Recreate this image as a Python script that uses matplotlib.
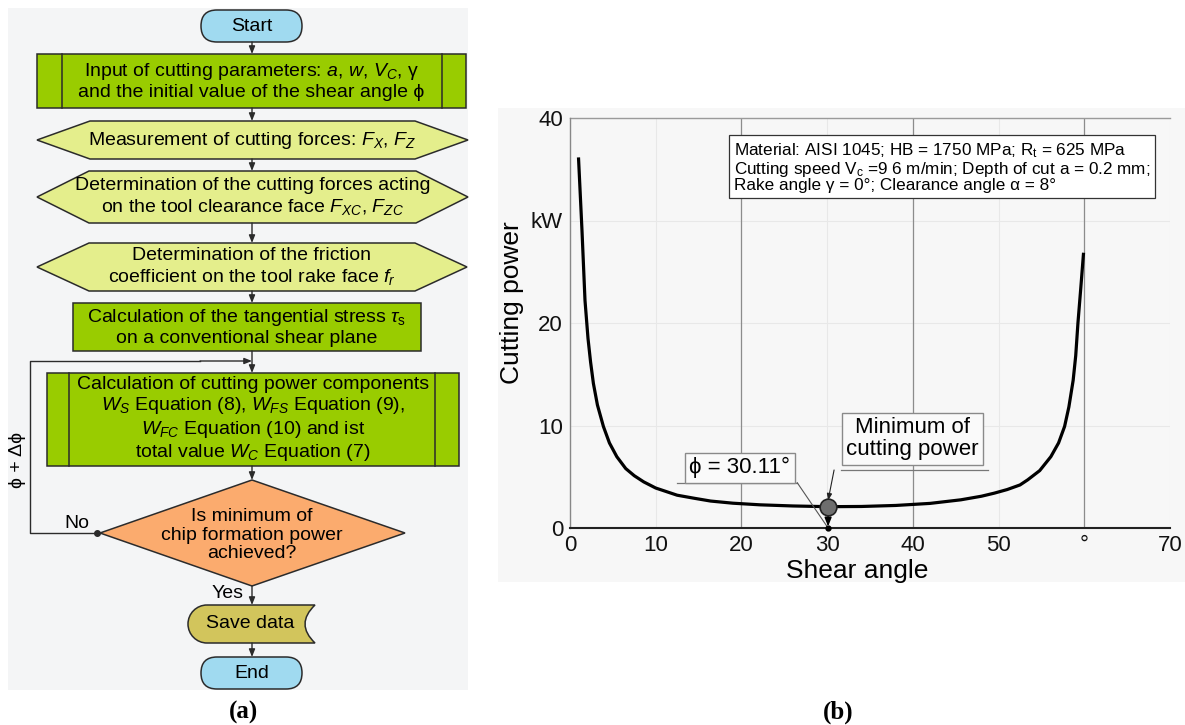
import matplotlib
matplotlib.use("Agg")
import matplotlib.pyplot as plt
from matplotlib.patches import Rectangle, Polygon, FancyBboxPatch, PathPatch
from matplotlib.path import Path

plt.rcParams.update(
    {
        "font.family": ["Liberation Sans", "DejaVu Sans"],
        "mathtext.fontset": "custom",
        "mathtext.rm": "Liberation Sans",
        "mathtext.it": "Liberation Sans:italic",
        "mathtext.bf": "Liberation Sans:bold",
    }
)

# ---- chart data ----
shear_angle = [1.0, 1.4, 1.75, 2.1, 2.4, 2.73, 3.2, 3.9, 4.6, 5.46, 6.5, 7.5, 8.6,
               10, 12.5, 14.5, 16.4, 19, 22.2, 26, 30.11, 34, 38, 42, 45.6, 48,
               49.5, 51, 52.5, 53.4, 54.8, 56.1, 57, 57.7, 58.2, 58.7, 59.0,
               59.26, 59.6, 59.9]
cutting_power = [36, 29, 22.2, 18.5, 16.2, 14.1, 12, 9.9, 8.3, 6.96, 5.8, 5.1, 4.5,
                 3.9, 3.2, 2.9, 2.63, 2.42, 2.26, 2.15, 2.08, 2.1, 2.2, 2.4, 2.75, 3.1,
                 3.4, 3.75, 4.2, 4.7, 5.6, 6.96, 8.3, 9.9, 11.8, 14.4, 16.8,
                 20, 23.5, 26.7]
phi_min = 30.11
power_min = 2.08

x_ticks = [0, 10, 20, 30, 40, 50, 60, 70]
x_ticklabels = ["0", "10", "20", "30", "40", "50", "°", "70"]
y_ticks = [0, 10, 20, 30, 40]
y_ticklabels = ["0", "10", "20", "kW", "40"]

info_lines = [
    r"Material: AISI 1045; HB = 1750 MPa; R$_\mathrm{t}$ = 625 MPa",
    r"Cutting speed V$_\mathrm{c}$ =9 6 m/min; Depth of cut a = 0.2 mm;",
    r"Rake angle γ = 0°; Clearance angle α = 8°",
]

# ---- flowchart texts ----
step_texts = [
    "Start",
    "Input of cutting parameters: $a$, $w$, $V_C$, γ\nand the initial value of the shear angle ϕ",
    "Measurement of cutting forces: $F_X$, $F_Z$",
    "Determination of the cutting forces acting\non the tool clearance face $F_{XC}$, $F_{ZC}$",
    "Determination of the friction\ncoefficient on the tool rake face $f_r$",
    "Calculation of the tangential stress $\\tau_\\mathrm{s}$\non a conventional shear plane",
    "Calculation of cutting power components\n$W_S$ Equation (8), $W_{FS}$ Equation (9),\n"
    "$W_{FC}$ Equation (10) and ist\ntotal value $W_C$ Equation (7)",
    "Is minimum of\nchip formation power\nachieved?",
    "Save data",
    "End",
]

EDGE = "#2b2b2b"
LIME = "#99cc00"
PALE = "#e4ee8c"
BLUE = "#a0daf0"
ORANGE = "#fbab6e"
OLIVE = "#d2c55c"
FS = 14

fig = plt.figure(figsize=(11.85, 7.25), dpi=100)
fc = fig.add_axes([0, 0, 1, 1])
fc.set_xlim(0, 1185)
fc.set_ylim(725, 0)
fc.axis("off")

# panel backgrounds
fc.add_patch(Rectangle((8, 8), 460, 682, fc="#f4f5f6", ec="none"))
fc.add_patch(Rectangle((498, 108), 687, 474, fc="#f7f7f7", ec="none"))

cx = 252


def pill(y0, y1, text):
    fc.add_patch(FancyBboxPatch((201, y0), 101, y1 - y0,
                                boxstyle="round,pad=0,rounding_size=16",
                                fc=BLUE, ec=EDGE, lw=1.1))
    fc.text(cx, (y0 + y1) / 2, text, ha="center", va="center", fontsize=FS)


def rect(x0, x1, y0, y1, text, inner=None):
    fc.add_patch(Rectangle((x0, y0), x1 - x0, y1 - y0, fc=LIME, ec=EDGE, lw=1.1))
    if inner:
        for xi in inner:
            fc.plot([xi, xi], [y0, y1], color=EDGE, lw=1.1)
    fc.text((x0 + x1) / 2, (y0 + y1) / 2, text, ha="center", va="center",
            fontsize=FS, linespacing=1.15)


def hexagon(x0, x1, y0, y1, inset, text):
    yc = (y0 + y1) / 2
    pts = [(x0, yc), (x0 + inset, y0), (x1 - inset, y0), (x1, yc),
           (x1 - inset, y1), (x0 + inset, y1)]
    fc.add_patch(Polygon(pts, closed=True, fc=PALE, ec=EDGE, lw=1.1))
    fc.text((x0 + x1) / 2, yc, text, ha="center", va="center", fontsize=FS,
            linespacing=1.15)


def arrow(x0, y0, x1, y1):
    fc.annotate("", xy=(x1, y1), xytext=(x0, y0),
                arrowprops=dict(arrowstyle="-|>,head_length=0.45,head_width=0.18",
                                color=EDGE, lw=1.0, shrinkA=0, shrinkB=0))


pill(10, 42, step_texts[0])
rect(37, 466, 54, 108, step_texts[1], inner=[62, 442])
hexagon(37, 468, 121, 159, 53, step_texts[2])
hexagon(37, 468, 171, 223, 52, step_texts[3])
hexagon(37, 467, 243, 291, 52, step_texts[4])
rect(73, 421, 303, 351, step_texts[5])
rect(47, 459, 373, 466, step_texts[6], inner=[69, 435])

# decision diamond
fc.add_patch(Polygon([(100, 533), (252, 480), (405, 533), (252, 586)], closed=True,
                     fc=ORANGE, ec=EDGE, lw=1.1))
fc.text(252, 535, step_texts[7], ha="center", va="center", fontsize=FS,
        linespacing=1.15)

# stored data shape
verts = [(207, 605), (315, 605), (295, 624), (315, 643), (207, 643),
         (196.5, 643), (188, 634.5), (188, 624),
         (188, 613.5), (196.5, 605), (207, 605)]
codes = [Path.MOVETO, Path.LINETO, Path.CURVE3, Path.CURVE3, Path.LINETO,
         Path.CURVE4, Path.CURVE4, Path.CURVE4,
         Path.CURVE4, Path.CURVE4, Path.CURVE4]
fc.add_patch(PathPatch(Path(verts, codes), fc=OLIVE, ec=EDGE, lw=1.1))
fc.text(250, 624, step_texts[8], ha="center", va="center", fontsize=FS)

pill(657, 689, step_texts[9])

for y0, y1 in [(42, 54), (108, 121), (159, 171), (223, 243), (291, 303),
               (351, 373), (466, 480), (586, 605), (643, 657)]:
    arrow(cx, y0, cx, y1)

# loop back
fc.plot([97, 30, 30, 200], [533, 533, 361, 361], color=EDGE, lw=1.0)
arrow(200, 361, 252, 361)
fc.plot([97], [533], "o", color=EDGE, ms=4)
fc.text(77, 524, "No", ha="center", va="center", fontsize=FS)
fc.text(228, 593, "Yes", ha="center", va="center", fontsize=FS)
fc.text(17, 460, "ϕ + Δϕ", ha="center", va="center", rotation=90, fontsize=FS)

fc.text(244, 712, "(a)", ha="center", va="center", fontsize=18,
        family="Liberation Serif", weight="bold")
fc.text(838, 712, "(b)", ha="center", va="center", fontsize=18,
        family="Liberation Serif", weight="bold")

# ---- right chart ----
ax = fig.add_axes([570 / 1185, 197 / 725, 600 / 1185, 410 / 725])
ax.set_facecolor("none")
ax.set_xlim(0, 70)
ax.set_ylim(0, 40)
ax.set_xticks(x_ticks)
ax.set_xticklabels(x_ticklabels)
ax.set_yticks(y_ticks)
ax.set_yticklabels(y_ticklabels)
ax.tick_params(length=0, labelsize=16, pad=5, colors="#111")
for s in ("top", "right"):
    ax.spines[s].set_visible(False)
ax.spines["left"].set_color("#888")
ax.spines["left"].set_linewidth(1.0)
ax.spines["bottom"].set_color("#222")
ax.spines["bottom"].set_linewidth(1.5)

ax.set_axisbelow(True)
ax.grid(True, color="#e8e8e8", lw=0.8)
for xv in (20, 40, 60):
    ax.axvline(xv, color="#8c8c8c", lw=0.9, zorder=1)
ax.axhline(40, color="#9a9a9a", lw=1.0, zorder=1, clip_on=False)

ax.plot(shear_angle, cutting_power, color="black", lw=2.3, zorder=3)

ax.set_xlabel("Shear angle", fontsize=19)
ax.xaxis.set_label_coords(0.478, -0.075)
ax.set_ylabel("Cutting power", fontsize=19)
ax.yaxis.set_label_coords(-0.077, 0.55)

ax.text(0.273, 0.942, "\n".join(info_lines), transform=ax.transAxes, ha="left",
        va="top", fontsize=12.3, linespacing=0.95,
        bbox=dict(boxstyle="square,pad=0.3", fc="white", ec="#333", lw=0.9))

# minimum marker and callouts
ax.annotate("", xy=(phi_min, 0.15), xytext=(phi_min, power_min),
            arrowprops=dict(arrowstyle="-|>,head_length=0.5,head_width=0.2",
                            color="black", lw=1.2, shrinkA=0, shrinkB=0), zorder=4)
ax.plot([phi_min], [0], "o", color="black", ms=3.5, zorder=5, clip_on=False)
ax.plot([phi_min], [power_min], "o", ms=12, mfc="#6e6e6e", mec="#222", mew=1.2,
        zorder=6)

ax.text(phi_min + 9.85, 8.7, "Minimum of\ncutting power", ha="center", va="center",
        fontsize=16, linespacing=1.05, zorder=5,
        bbox=dict(boxstyle="square,pad=0.2", fc="#fafafa", ec="#8a8a8a", lw=1.0))
ax.plot([phi_min + 1.5, phi_min + 18.7], [5.66, 5.66], color="#777", lw=0.9, zorder=4)
ax.annotate("", xy=(phi_min, power_min + 0.6), xytext=(phi_min + 0.7, 5.66),
            arrowprops=dict(arrowstyle="-|>,head_length=0.4,head_width=0.15",
                            color="#222", lw=0.8, shrinkA=0, shrinkB=0), zorder=5)

ax.text(phi_min - 10.3, 5.9, "ϕ = 30.11°", ha="center", va="center", fontsize=16,
        zorder=5,
        bbox=dict(boxstyle="square,pad=0.2", fc="#fafafa", ec="#8a8a8a", lw=1.0))
ax.plot([phi_min - 17.6, phi_min - 3.6], [4.42, 4.42], color="#777", lw=0.9, zorder=4)
ax.plot([phi_min - 3.6, phi_min], [4.42, 0], color="#555", lw=0.8, zorder=4)

fig.savefig("out.png", dpi=100)
